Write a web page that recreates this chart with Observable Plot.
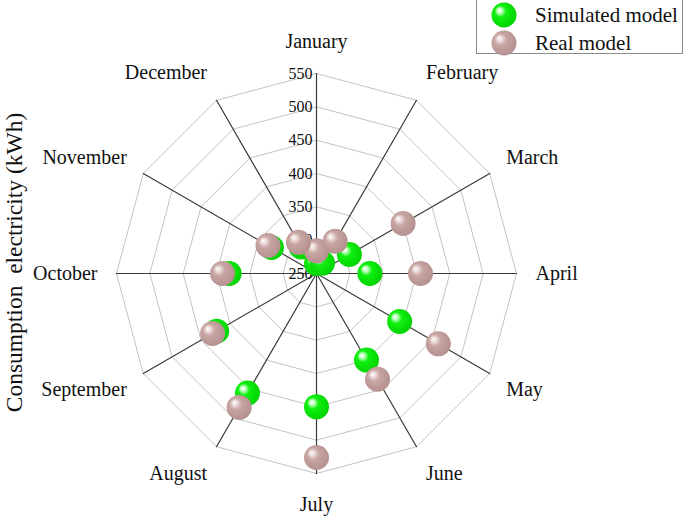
<!DOCTYPE html>
<html><head><meta charset="utf-8">
<script src="https://cdn.jsdelivr.net/npm/d3@7"></script>
<script src="https://cdn.jsdelivr.net/npm/@observablehq/plot@0.6"></script>
<style>
body{margin:0;background:#fff;font-family:"Liberation Serif","Times New Roman",serif;}
#wrap{position:relative;width:685px;height:516px;overflow:hidden;}
#legend{position:absolute;left:476px;top:-1px;width:207px;height:55px;border:1px solid #8c8c8c;background:#fff;box-sizing:border-box;}
.row{position:absolute;left:0;height:28px;display:flex;align-items:center;font-size:21px;color:#111;white-space:nowrap;}
.row svg{margin-left:14px;margin-right:18px;}
</style></head><body><div id="wrap"></div>
<script>
// ---- data ----
const months = ["January","February","March","April","May","June","July","August","September","October","November","December"];
const simulated = [265, 268, 307, 330, 394, 400, 450, 457, 423, 381, 328, 296];
const real      = [284, 306, 400, 406, 461, 433, 526, 482, 430, 391, 334, 304];
const ticks = [250, 300, 350, 400, 450, 500, 550];
const yTitle = "Consumption  electricity (kWh)";
const seriesNames = ["Simulated model", "Real model"];

// ---- layout ----
const W = 685, H = 516, cx = 316, cy = 273, pxPerUnit = 200 / 300; // 300 kWh span = 200px
const base = ticks[0];
const k = 1 / pxPerUnit;
const ang = i => i * Math.PI / 6;
const pt = (v, i) => ({x: (v - base) * Math.sin(ang(i)), y: (v - base) * Math.cos(ang(i))});

const simPts = simulated.map((v, i) => ({...pt(v, i), month: months[i], value: v, series: seriesNames[0]}));
const realPts = real.map((v, i) => ({...pt(v, i), month: months[i], value: v, series: seriesNames[1]}));

const rings = [];
ticks.slice(1).forEach(t => {
  for (let i = 0; i <= 12; i++) rings.push({...pt(t, i % 12), ring: t});
});
const spokes = [];
months.forEach((m, i) => { spokes.push({x: 0, y: 0, m}); spokes.push({...pt(ticks[ticks.length - 1], i), m}); });
const tickPts = ticks.map(t => ({x: 0, y: t - base, label: String(t)}));
const labelRx = 219 * k, labelRy = 231.5 * k;
const labels = months.map((m, i) => ({m, i, x: labelRx * Math.sin(ang(i)), y: labelRy * Math.cos(ang(i))}));

const plot = Plot.plot({
  width: W, height: H,
  margin: 0,
  x: {domain: [-cx * k, (W - cx) * k], axis: null},
  y: {domain: [-(H - cy) * k, cy * k], axis: null},
  style: {fontFamily: "'Liberation Serif','Times New Roman',serif", color: "#111", background: "#fff"},
  marks: [
    Plot.line(rings, {x: "x", y: "y", z: "ring", stroke: "#c4c4c4", strokeWidth: 1}),
    Plot.line(spokes, {x: "x", y: "y", z: "m", stroke: "#3a3a3a", strokeWidth: 1.2}),
    Plot.text(tickPts, {x: "x", y: "y", text: "label", textAnchor: "end", dx: -4, fontSize: 16, fill: "#111"}),
    Plot.text(labels.filter(d => d.i === 0 || d.i === 6), {x: "x", y: "y", text: "m", textAnchor: "middle", fontSize: 20, fill: "#111"}),
    Plot.text(labels.filter(d => d.i > 0 && d.i < 6), {x: "x", y: "y", text: "m", textAnchor: "start", fontSize: 20, fill: "#111"}),
    Plot.text(labels.filter(d => d.i > 6), {x: "x", y: "y", text: "m", textAnchor: "end", fontSize: 20, fill: "#111"}),
    Plot.text([yTitle], {frameAnchor: "left", textAnchor: "middle", rotate: -90, dx: 14, dy: 4, fontSize: 23.5, fill: "#111"}),
    Plot.dot(simPts, {x: "x", y: "y", r: 12.5, fill: "url(#gGreen)", stroke: "none"}),
    Plot.dot(realPts, {x: "x", y: "y", r: 12.5, fill: "url(#gRose)", stroke: "none"})
  ]
});

const gradDefs = `
<radialGradient id="gGreen" cx="0.45" cy="0.45" r="0.6" fx="0.3" fy="0.3">
  <stop offset="0" stop-color="#ffffff"/>
  <stop offset="0.16" stop-color="#c8ffc8"/>
  <stop offset="0.38" stop-color="#10f010"/>
  <stop offset="1" stop-color="#00d000"/>
</radialGradient>
<radialGradient id="gRose" cx="0.45" cy="0.45" r="0.6" fx="0.3" fy="0.3">
  <stop offset="0" stop-color="#ffffff"/>
  <stop offset="0.16" stop-color="#eedede"/>
  <stop offset="0.4" stop-color="#c7a5a3"/>
  <stop offset="1" stop-color="#b28f8d"/>
</radialGradient>`;
const defs = document.createElementNS("http://www.w3.org/2000/svg", "defs");
defs.innerHTML = gradDefs;
plot.insertBefore(defs, plot.firstChild);

const wrap = document.getElementById("wrap");
wrap.appendChild(plot);

// legend
const legend = document.createElement("div");
legend.id = "legend";
const fills = ["url(#gGreen)", "url(#gRose)"];
seriesNames.forEach((name, j) => {
  const row = document.createElement("div");
  row.className = "row";
  row.style.top = (j === 0 ? 1 : 29) + "px";
  row.innerHTML = `<svg width="26" height="26"><circle cx="13" cy="13" r="12.5" fill="${fills[j]}"/></svg><span>${name}</span>`;
  legend.appendChild(row);
});
wrap.appendChild(legend);
</script>
</body></html>
